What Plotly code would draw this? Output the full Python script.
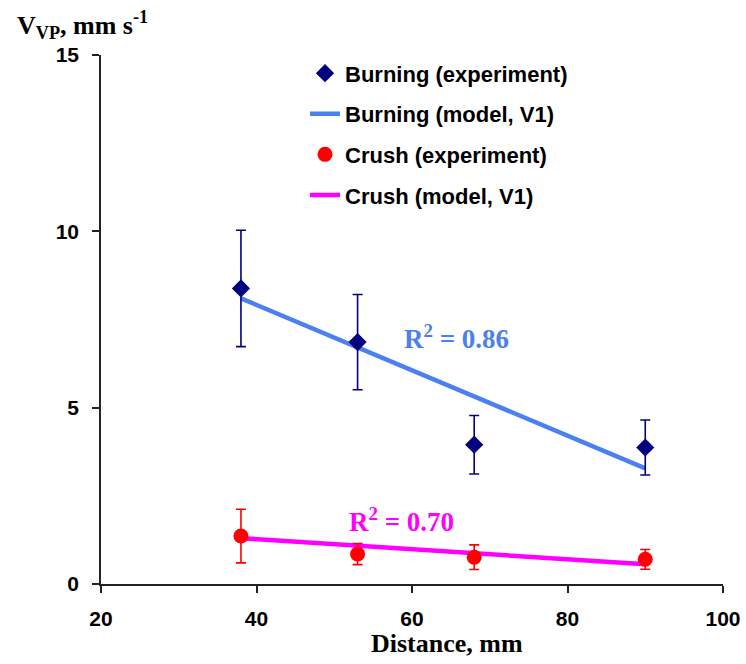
import plotly.graph_objects as go

# Data
dist = [38, 53, 68, 90]
burn_exp = [8.38, 6.86, 3.95, 3.87]
burn_err = [1.65, 1.35, 0.83, 0.78]
crush_exp = [1.36, 0.85, 0.76, 0.70]
crush_err = [0.76, 0.30, 0.35, 0.28]
model_x = [38, 90]
burn_model = [8.10, 3.28]
crush_model = [1.30, 0.56]
x_ticks = [20, 40, 60, 80, 100]
y_ticks = [0, 5, 10, 15]

BLUE = "#4A80F2"
MAGENTA = "#FF00FF"

fig = go.Figure()

fig.add_trace(go.Scatter(
    x=model_x, y=burn_model, mode="lines", name="Burning (model, V1)",
    line=dict(color=BLUE, width=4.5), legendrank=2, legendgroup="b"))
fig.add_trace(go.Scatter(
    x=model_x, y=crush_model, mode="lines", name="Crush (model, V1)",
    line=dict(color=MAGENTA, width=4.5), legendrank=4, legendgroup="d"))
fig.add_trace(go.Scatter(
    x=dist, y=burn_exp, mode="markers", name="Burning (experiment)",
    marker=dict(symbol="diamond", size=14, color="#000080"),
    error_y=dict(type="data", array=burn_err, color="#000080", thickness=1.6, width=5),
    legendrank=1, legendgroup="a"))
fig.add_trace(go.Scatter(
    x=dist, y=crush_exp, mode="markers", name="Crush (experiment)",
    marker=dict(symbol="circle", size=15, color="#FF0000"),
    error_y=dict(type="data", array=crush_err, color="#FF0000", thickness=1.6, width=5),
    legendrank=3, legendgroup="c"))

serif = "Liberation Serif"
fig.add_annotation(x=65.7, y=7.0, text="R<sup>2</sup> = 0.86", showarrow=False,
                   font=dict(family=serif, size=27, color=BLUE, weight="bold"))
fig.add_annotation(x=58.7, y=1.81, text="R<sup>2</sup> = 0.70", showarrow=False,
                   font=dict(family=serif, size=27, color=MAGENTA, weight="bold"))
fig.add_annotation(xref="paper", yref="paper", x=-0.138, y=1.0, yshift=10,
                   xanchor="left", yanchor="bottom",
                   text="V<sub>VP</sub>, mm s<sup>-1</sup>", showarrow=False,
                   font=dict(family=serif, size=26, color="black", weight="bold"))
fig.add_annotation(xref="paper", yref="paper", x=0.557, y=0.0, yshift=-43,
                   xanchor="center", yanchor="top",
                   text="Distance, mm", showarrow=False,
                   font=dict(family=serif, size=26, color="black", weight="bold"))

axis_common = dict(showgrid=False, zeroline=False, showline=True, linecolor="#222",
                   linewidth=1.5, ticks="outside", ticklen=7, tickwidth=1.5, tickcolor="#222",
                   tickfont=dict(family="Liberation Sans", size=21, color="black", weight="bold"))
fig.update_xaxes(range=[20, 100], tickvals=x_ticks, ticklabelstandoff=8, **axis_common)
fig.update_yaxes(range=[0, 15], tickvals=y_ticks, ticklabelstandoff=9, **axis_common)

fig.update_layout(
    width=746, height=664,
    margin=dict(l=101, r=23, t=55, b=80, autoexpand=False),
    plot_bgcolor="white", paper_bgcolor="white",
    legend=dict(x=0.328, y=1.005, xanchor="left", yanchor="top",
                font=dict(family="Liberation Sans", size=22, color="black", weight="bold"),
                tracegroupgap=9, bgcolor="rgba(0,0,0,0)"),
)

fig.write_html("out.html", config={"displayModeBar": False},
               post_script="document.body.style.margin='0';")
